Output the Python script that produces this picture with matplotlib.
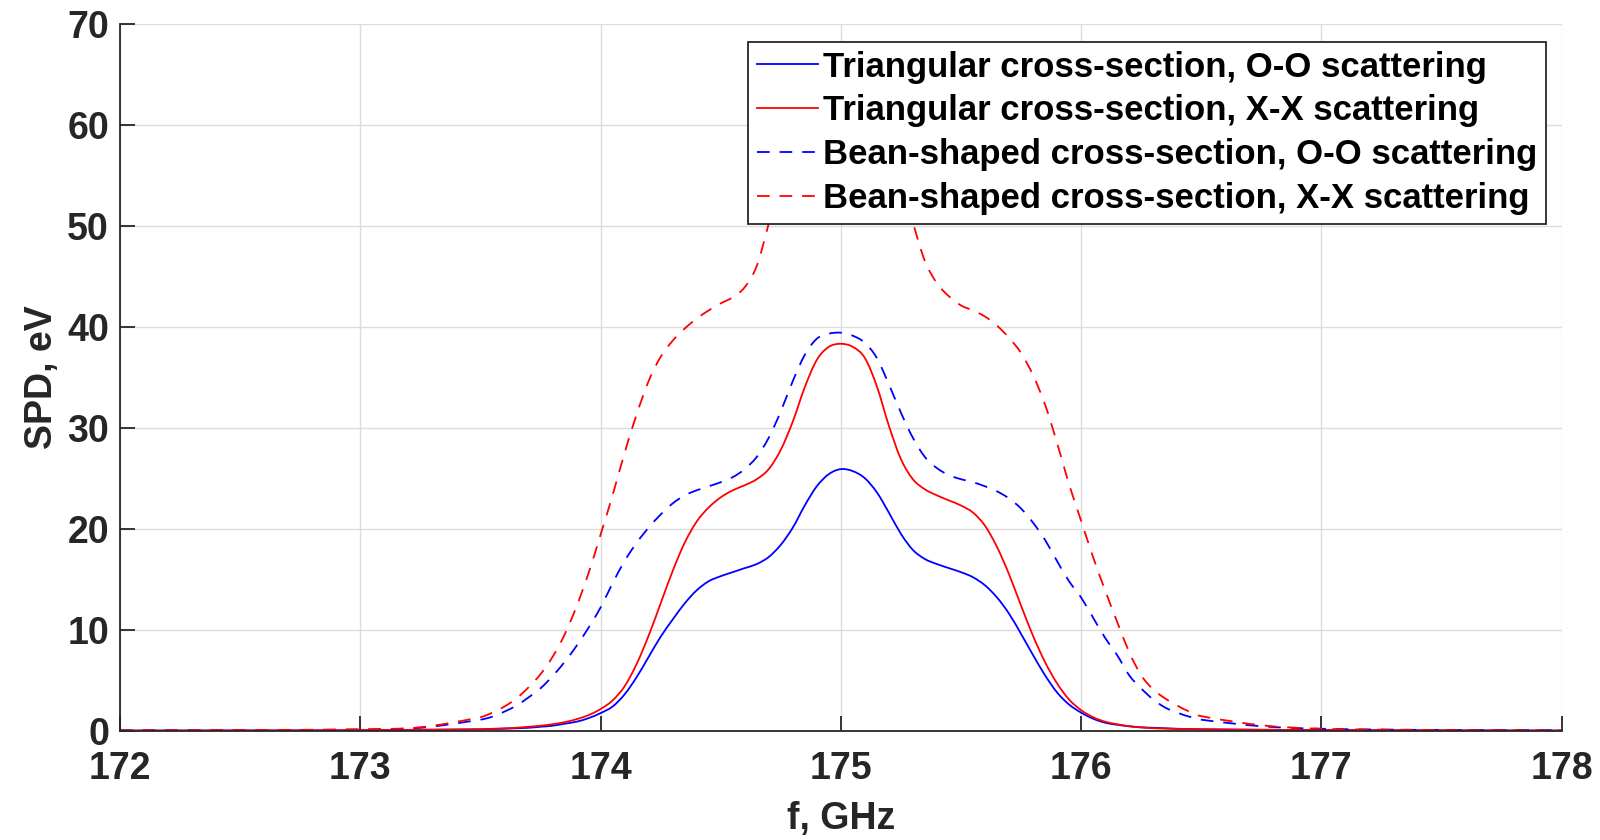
import numpy as np
import matplotlib
matplotlib.use("Agg")
import matplotlib.pyplot as plt
from matplotlib.path import Path
from matplotlib.patches import PathPatch
from matplotlib.lines import Line2D

# Frequency grid, GHz
freq = [172.0, 172.5, 173.0, 173.25,
        173.5, 173.55, 173.6, 173.65, 173.7, 173.75, 173.8, 173.85, 173.9, 173.95,
        174.0, 174.05, 174.1, 174.15, 174.2, 174.25, 174.3, 174.35, 174.4, 174.45,
        174.5, 174.55, 174.6, 174.65, 174.7, 174.75, 174.8, 174.85, 174.9, 174.95,
        175.0, 175.05, 175.1, 175.15, 175.2, 175.25, 175.3, 175.35, 175.4, 175.45,
        175.5, 175.55, 175.6, 175.65, 175.7, 175.75, 175.8, 175.85, 175.9, 175.95,
        176.0, 176.05, 176.1, 176.15, 176.2, 176.25, 176.3, 176.35, 176.4, 176.45,
        176.5, 176.75, 177.0, 177.5, 178.0]

# Triangular cross-section, O-O scattering
tri_oo = [0.02, 0.03, 0.05, 0.1,
          0.15, 0.18, 0.2, 0.25, 0.3, 0.4, 0.5, 0.7, 0.9, 1.25,
          1.75, 2.4, 3.6, 5.3, 7.3, 9.3, 11.0, 12.6, 13.9, 14.8,
          15.3, 15.7, 16.1, 16.5, 17.2, 18.4, 20.1, 22.3, 24.2, 25.4,
          25.9, 25.7, 25.0, 23.6, 21.6, 19.5, 17.9, 17.0, 16.5, 16.1,
          15.7, 15.2, 14.4, 13.2, 11.6, 9.6, 7.5, 5.5, 3.8, 2.6,
          1.8, 1.2, 0.8, 0.6, 0.45, 0.35, 0.3, 0.25, 0.2, 0.18,
          0.15, 0.1, 0.07, 0.04, 0.02]

# Triangular cross-section, X-X scattering
tri_xx = [0.02, 0.03, 0.06, 0.1,
          0.15, 0.2, 0.25, 0.3, 0.4, 0.5, 0.65, 0.85, 1.15, 1.55,
          2.15, 3.0, 4.4, 6.6, 9.4, 12.6, 15.8, 18.6, 20.7, 22.1,
          23.1, 23.8, 24.3, 24.9, 25.9, 27.8, 30.6, 34.0, 36.7, 38.0,
          38.3, 38.0, 36.9, 34.1, 30.2, 26.9, 24.9, 23.9, 23.3, 22.8,
          22.3, 21.6, 20.3, 18.2, 15.5, 12.4, 9.4, 6.8, 4.7, 3.1,
          2.05, 1.35, 0.9, 0.65, 0.45, 0.33, 0.26, 0.22, 0.19, 0.17,
          0.15, 0.1, 0.07, 0.04, 0.02]

# Bean-shaped cross-section, O-O scattering
bean_oo = [0.04, 0.06, 0.12, 0.3,
           1.1, 1.4, 1.9, 2.5, 3.3, 4.2, 5.4, 6.8, 8.4, 10.2,
           12.2, 14.6, 16.8, 18.6, 20.1, 21.4, 22.5, 23.3, 23.8, 24.2,
           24.6, 25.1, 25.9, 27.1, 29.0, 31.6, 34.6, 37.2, 38.8, 39.3,
           39.4, 39.1, 38.4, 36.9, 34.3, 31.5, 29.0, 27.1, 26.0, 25.3,
           24.9, 24.6, 24.2, 23.7, 23.0, 22.0, 20.6, 18.9, 16.8, 14.8,
           13.2, 11.2, 9.2, 7.5, 5.5, 4.2, 3.1, 2.3, 1.8, 1.4,
           1.1, 0.45, 0.2, 0.08, 0.05]

# Bean-shaped cross-section, X-X scattering
bean_xx = [0.05, 0.08, 0.15, 0.35,
           1.35, 1.8, 2.4, 3.2, 4.3, 5.6, 7.3, 9.5, 12.3, 15.6,
           19.4, 23.3, 27.5, 31.3, 34.6, 37.0, 38.6, 39.8, 40.8, 41.6,
           42.3, 42.9, 43.9, 46.0, 50.2, 55.0, 59.0, 62.0, 63.8, 64.7,
           65.0, 64.7, 63.8, 62.0, 59.0, 54.5, 50.3, 46.5, 44.3, 43.0,
           42.1, 41.6, 41.0, 40.1, 38.9, 37.4, 35.2, 32.3, 28.5, 24.4,
           20.8, 17.2, 13.9, 10.8, 7.8, 5.5, 4.1, 3.2, 2.5, 1.9,
           1.45, 0.55, 0.2, 0.08, 0.05]

labels = ["Triangular cross-section, O-O scattering",
          "Triangular cross-section, X-X scattering",
          "Bean-shaped cross-section, O-O scattering",
          "Bean-shaped cross-section, X-X scattering"]

x_ticks = [172, 173, 174, 175, 176, 177, 178]
y_ticks = [0, 10, 20, 30, 40, 50, 60, 70]

plt.rcParams["font.family"] = ["Liberation Sans", "DejaVu Sans"]
plt.rcParams["font.weight"] = "bold"


def smooth_path(x, y):
    """Cubic Hermite curve through the samples, expressed as Bezier segments."""
    x = np.asarray(x, float)
    y = np.asarray(y, float)
    m = np.empty_like(y)
    m[1:-1] = (y[2:] - y[:-2]) / (x[2:] - x[:-2])
    m[0] = (y[1] - y[0]) / (x[1] - x[0])
    m[-1] = (y[-1] - y[-2]) / (x[-1] - x[-2])
    verts = [(x[0], y[0])]
    codes = [Path.MOVETO]
    for i in range(len(x) - 1):
        h = x[i + 1] - x[i]
        verts += [(x[i] + h / 3, y[i] + m[i] * h / 3),
                  (x[i + 1] - h / 3, y[i + 1] - m[i + 1] * h / 3),
                  (x[i + 1], y[i + 1])]
        codes += [Path.CURVE4] * 3
    return Path(verts, codes)


fig = plt.figure(figsize=(16, 8.4), dpi=100)
ax = fig.add_axes([0.075, 0.130, 0.901, 0.842])

lw = 1.3
dash = (0, (7, 5.5))
styles = [((0, 0, 1), "-"), ((1, 0, 0), "-"), ((0, 0, 1), dash), ((1, 0, 0), dash)]
series = [tri_oo, tri_xx, bean_oo, bean_xx]

handles = []
for vals, (col, ls), lab in zip(series, styles, labels):
    ax.add_patch(PathPatch(smooth_path(freq, vals), fill=False, edgecolor=col,
                           lw=lw, ls=ls, zorder=2, capstyle="butt"))
    handles.append(Line2D([], [], color=col, lw=lw, ls=ls, label=lab))

ax.set_xlim(172, 178)
ax.set_ylim(0, 70)
ax.set_xticks(x_ticks)
ax.set_yticks(y_ticks)
ax.set_xticklabels([str(t) for t in x_ticks])
ax.set_yticklabels([str(t) for t in y_ticks])

ax.grid(True, color="#dcdcdc", lw=1.0)
ax.set_axisbelow(True)
for side in ("top", "right"):
    ax.spines[side].set_visible(False)
for side in ("left", "bottom"):
    ax.spines[side].set_linewidth(1.3)
    ax.spines[side].set_color("#262626")

ax.tick_params(axis="both", direction="in", length=11, width=1.3,
               color="#262626", labelsize=27, labelcolor="#262626")
ax.tick_params(axis="x", pad=14.5)
ax.tick_params(axis="y", pad=8)
for lab in ax.get_xticklabels() + ax.get_yticklabels():
    lab.set_fontweight("bold")

ax.set_xlabel("f, GHz", fontsize=27, fontweight="bold", color="#262626", labelpad=10)
ax.set_ylabel("SPD, eV", fontsize=27, fontweight="bold", color="#262626", labelpad=5)

leg = ax.legend(handles=handles, loc="upper right", bbox_to_anchor=(0.989, 0.974),
                borderaxespad=0, fancybox=False, framealpha=1, edgecolor="#262626",
                prop={"size": 25, "weight": "bold"}, handlelength=1.75,
                handletextpad=0.15, labelspacing=0.31, borderpad=0.25)
leg.get_frame().set_linewidth(1.3)
leg.set_zorder(5)

fig.savefig("out.png", dpi=100)
